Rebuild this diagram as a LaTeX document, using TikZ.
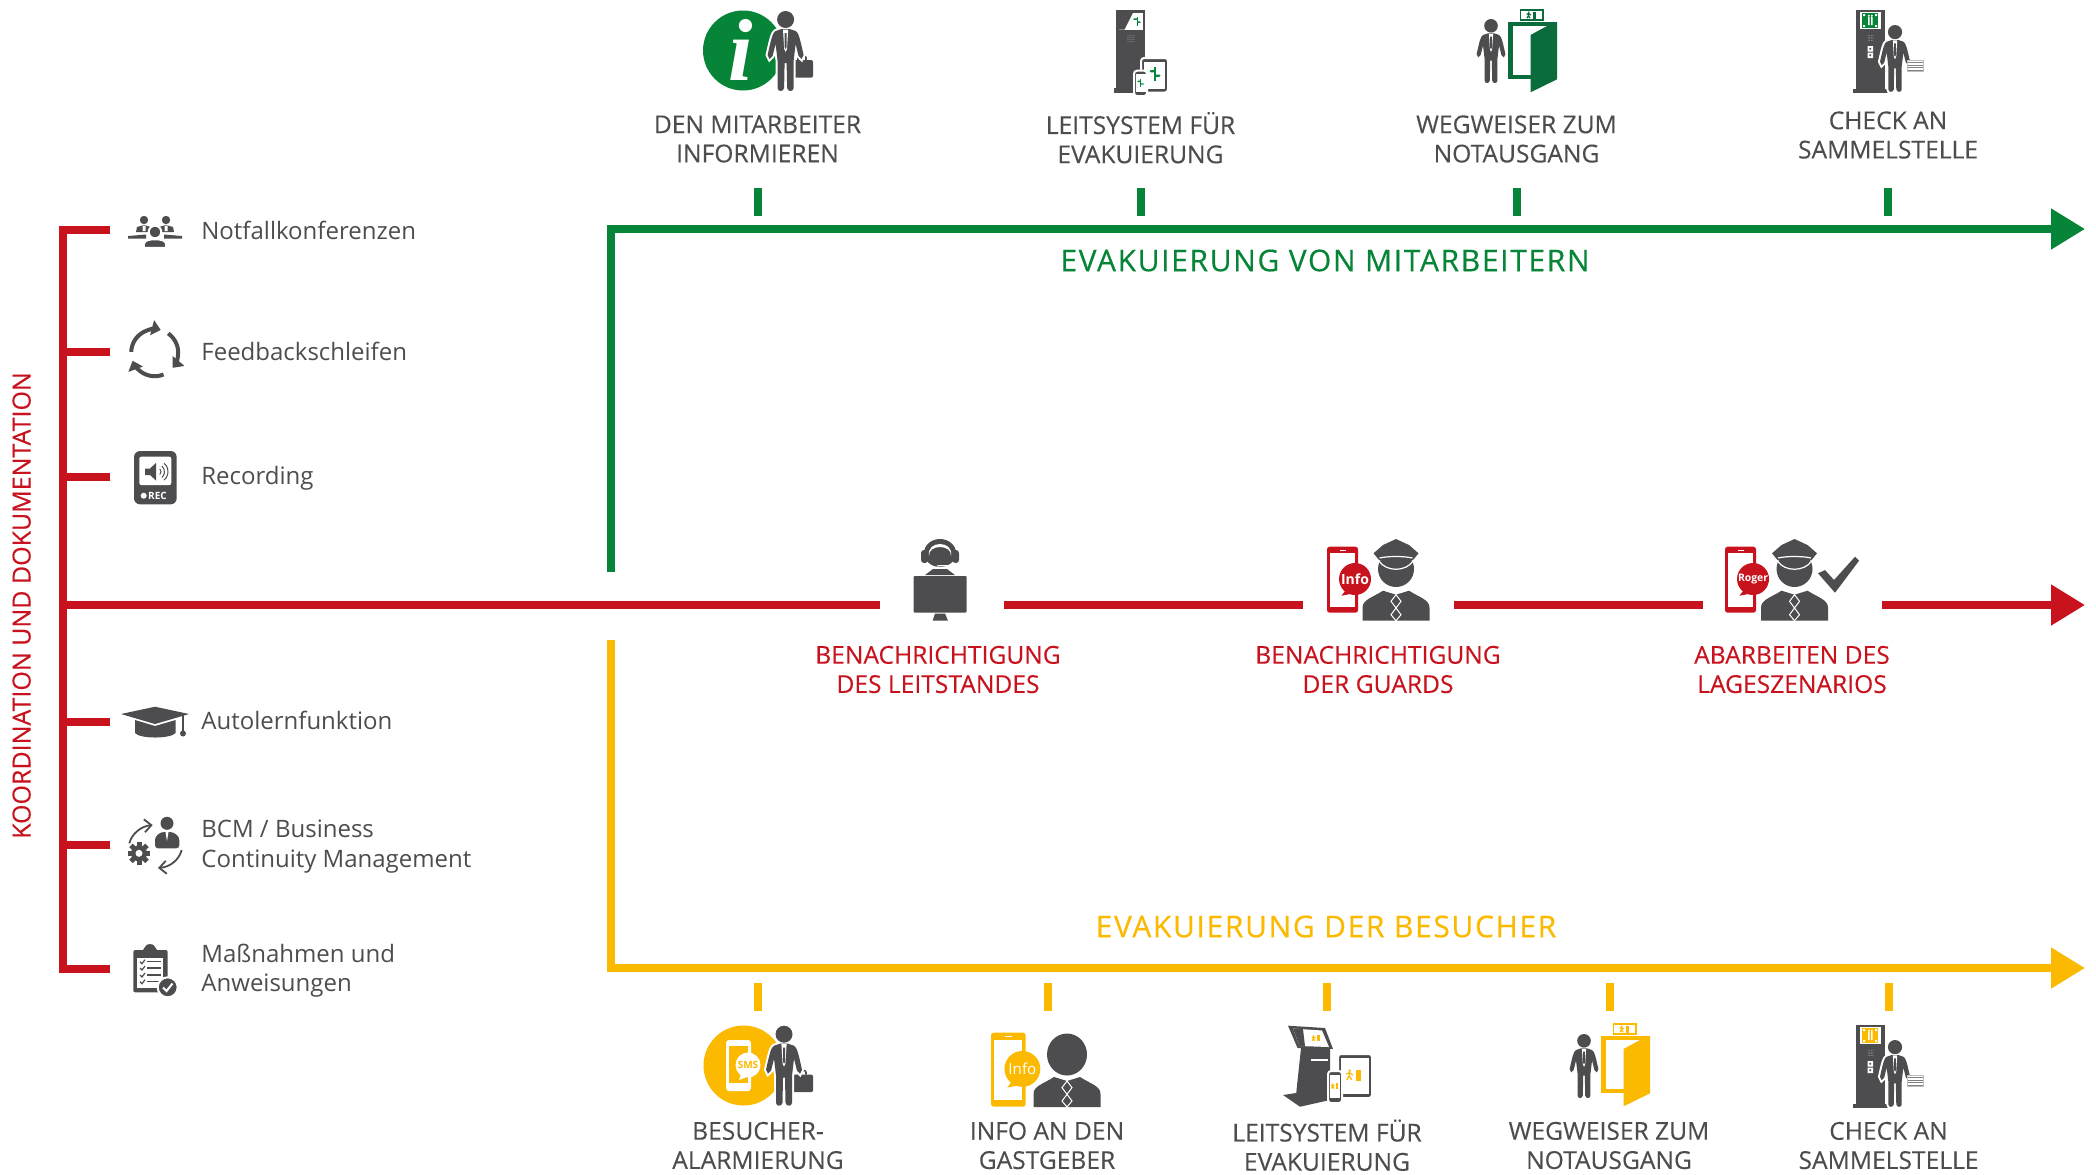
\documentclass[tikz,border=0pt]{standalone}
\usepackage{fontspec}
\setmainfont{Open Sans}
\newfontfamily\titlefont[LetterSpace=5.5,FakeBold=0.4]{Open Sans}
\newfontfamily\capsfont[FakeBold=0.25]{Open Sans}
\newfontfamily\infofont{Liberation Serif}
\usepackage{tikz}
\usetikzlibrary{arrows.meta}

\definecolor{evagreen}{HTML}{068437}
\definecolor{doorgreen}{HTML}{0A6B3C}
\definecolor{evared}{HTML}{C8131F}
\definecolor{evayellow}{HTML}{FBB900}
\definecolor{icondark}{HTML}{4D4D4F}

\newcommand{\personshape}{(-4,18) -- (-10,20) .. controls (-13,22) and (-14,26) .. (-18,44) -- (-16,48) -- (-13,45) -- (-10,33) -- (-8,50) -- (-8,77) .. controls (-8,81) and (-2,81) .. (-1.5,77) -- (-1,52) -- (1,52) -- (1.5,77) .. controls (2,81) and (8,81) .. (8,77) -- (8,50) -- (10,33) -- (13,45) -- (16,48) -- (18,44) .. controls (14,26) and (13,22) .. (10,20) -- (4,18) -- cycle}

\begin{document}
\begin{tikzpicture}[x=0.5pt,y=-0.5pt]
    \tikzstyle{evaline}=[line width=4pt]
    \tikzstyle{evaarrow}=[evaline,-{Triangle[length=17pt,width=19.5pt]}]
    \tikzstyle{slot}=[inner sep=0pt,minimum height=20pt]
    \tikzstyle{steplabel}=[inner sep=0pt,align=center,text=icondark,font=\fontsize{12.3}{14.6}\capsfont]
    \tikzstyle{alarmlabel}=[steplabel,text=evared]
    \tikzstyle{sidelabel}=[inner sep=0pt,anchor=west,align=left,text=icondark,font=\fontsize{12}{14.6}\selectfont]
    \tikzstyle{titlelabel}=[inner sep=0pt,font=\fontsize{15}{18}\titlefont]
    \tikzstyle{iconline}=[icondark,line width=2pt]
    \tikzstyle{badge}=[inner sep=0pt,text=white,font=\bfseries]
    \tikzset{
        pics/person/.style={code={
            \path[draw=white,fill=white,line width=2pt] (0,8.5) circle (8.5);
            \path[draw=white,fill=white,line width=2pt] \personshape;
            \fill[icondark] (0,8.5) circle (8.5);
            \fill[icondark] \personshape;
            \fill[white] (-2.6,18.5) -- (2.6,18.5) -- (1.4,38) -- (0,41) -- (-1.4,38) -- cycle;
            \fill[icondark] (-1,22) -- (1,22) -- (1,36) -- (0,38) -- (-1,36) -- cycle;
        }},
        pics/briefcase/.style={code={
            \draw[icondark,line width=0.8pt,rounded corners=1pt] (5,0) -- (5,-4) -- (13,-4) -- (13,0);
            \fill[icondark,rounded corners=1pt] (0,0) rectangle (20,17.7);
        }},
        pics/signpost/.style={code={
            \fill[#1] (-0.5,-6) rectangle (0.5,6);
            \fill[#1] (0,-3.5) -- (-4,-3.5) -- (-5,-2.5) -- (-4,-1.5) -- (0,-1.5) -- cycle;
            \fill[#1] (0,0.5) -- (4,0.5) -- (5,1.5) -- (4,2.5) -- (0,2.5) -- cycle;
        }},
        pics/exitmark/.style={code={
            \fill[#1] (1.5,-5) -- (6,-5) -- (6,5) -- (1.5,5) -- cycle;
            \fill[#1] (-4,-4) circle (1.2);
            \draw[#1,line width=0.6pt] (-4,-2.5) -- (-4.5,1) -- (-6.5,4.5) (-4.5,1) -- (-2,4.5) (-7,-1) -- (-4,-2) -- (-1,0);
        }},
        pics/speakerdots/.style={code={
            \foreach \dx in {-3,-1,1,3}
                \foreach \dy in {-3,-1,1,3}
                    \fill[#1] (\dx,\dy) circle (0.45);
        }},
        pics/phonemsg/.style n args={3}{code={
            \fill[#1,rounded corners=1.3pt] (0,0) rectangle (31,66);
            \fill[white] (3,6.5) rectangle (28,60);
            \fill[white] (12.5,3) rectangle (18.5,4);
            \fill[#1] (28,32.3) circle (16);
            \fill[#1] (19,43) -- (14.5,49) -- (25,47) -- cycle;
            \node[badge,font=#3] (msg) at (28,32) {#2};
        }},
        pics/bust/.style={code={
            \fill[icondark] (-33.5,30) -- (-33.5,17) .. controls (-33.5,9) and (-24,7) .. (-13,0) -- (0,4) -- (13,0) .. controls (24,7) and (33.5,9) .. (33.5,17) -- (33.5,30) -- cycle;
            \draw[white,line width=0.5pt] (0,4) -- (-5,10.6) -- (0,17.3) -- (-5,24) -- (0,30) -- (5,24) -- (0,17.3) -- (5,10.6) -- cycle;
        }},
        pics/guard/.style={code={
            \fill[icondark] (0,30) circle (18);
            \fill[icondark] (0,0) -- (-13,6) -- (-22.5,14.3) -- (-17,21) -- (17,21) -- (22.5,14.3) -- (13,6) -- cycle;
            \draw[white,line width=0.6pt] (-16.5,19) .. controls (-8,17) and (8,17) .. (16.5,19);
            \draw[white,line width=0.6pt] (-17,22) .. controls (-10,33) and (10,33) .. (17,22);
            \pic at (0,51.7) {bust};
        }},
        pics/door/.style n args={2}{code={
            \fill[#1] (0,0) rectangle (49,57.3);
            \fill[white] (4.6,4) rectangle (39,53);
            \fill[#2] (22.5,13) -- (39,4) -- (49,0) -- (49,57.3) -- (22.5,70.3) -- cycle;
            \draw[#1,line width=0.8pt,fill=white] (12.5,-12) rectangle (35,-2);
            \pic[scale=0.7] at (23.5,-7) {exitmark=#1};
        }},
        pics/stand/.style={code={
            \fill[icondark] (0,0) rectangle (29,79);
            \fill[icondark] (-3,79) rectangle (34,82.7);
            \fill[white] (4,2) rectangle (25,19);
            \fill[#1] (6,3) rectangle (22,18);
            \fill[white] (12,7) rectangle (13.5,15) (15,7) rectangle (16.5,15);
            \fill[white] (12.8,5.8) circle (1.1) (15.8,5.8) circle (1.1);
            \fill[white] (7,4) rectangle (9,6) (19,4) rectangle (21,6) (7,15) rectangle (9,17) (19,15) rectangle (21,17);
            \pic[scale=0.8] at (14.5,28) {speakerdots=lightgray};
            \fill[white] (11.5,36) rectangle (17,41.5) (11.5,42.5) rectangle (17,48);
            \fill[icondark] (13.3,37.8) rectangle (15.2,39.7) (13.3,44.3) rectangle (15.2,46.2);
            \pic[scale=0.835] at (39,15) {person};
            \fill[white] (51.5,50) rectangle (67.4,61);
            \draw[lightgray,fill=white,line width=0.4pt] (51.5,50) rectangle (67.4,61);
            \foreach \ly in {52.5,55,57.5,60}
                \draw[gray,line width=0.5pt] (52,\ly) -- (67,\ly);
        }}
    }
    \useasboundingbox (0,0) rectangle (2096,1174);

    \coordinate (greenstart) at (611,572);
    \coordinate (greencorner) at (611,229);
    \coordinate (greentip) at (2085,229);
    \coordinate (yellowstart) at (611,640);
    \coordinate (yellowcorner) at (611,968);
    \coordinate (yellowtip) at (2085,968);
    \coordinate (redstart) at (62.7,605);
    \coordinate (redtip) at (2085,605);
    \coordinate (bracketa) at (110,229.7);
    \coordinate (bracketb) at (110,352.3);
    \coordinate (bracketc) at (110,477.3);
    \coordinate (bracketd) at (110,722);
    \coordinate (brackete) at (110,845);
    \coordinate (bracketf) at (110,969.3);
    \coordinate (spinea) at (62.7,229.7);
    \coordinate (spineb) at (62.7,352.3);
    \coordinate (spinec) at (62.7,477.3);
    \coordinate (spined) at (62.7,722);
    \coordinate (spinee) at (62.7,845);
    \coordinate (spinef) at (62.7,969.3);

    \node[slot,minimum width=62pt] (leitslot) at (942,605) {};
    \node[slot,minimum width=75.5pt] (guardslot) at (1378.5,605) {};
    \node[slot,minimum width=89.5pt] (rogerslot) at (1792.5,605) {};

    \draw[evaarrow,evagreen] (greenstart) -- (greencorner) -- (greentip);
    \draw[evaarrow,evayellow] (yellowstart) -- (yellowcorner) -- (yellowtip);
    \draw[evaline,evared] (bracketa) -- (spinea) -- (spinef) -- (bracketf);
    \draw[evaline,evared] (spineb) -- (bracketb);
    \draw[evaline,evared] (spinec) -- (bracketc);
    \draw[evaline,evared] (spined) -- (bracketd);
    \draw[evaline,evared] (spinee) -- (brackete);
    \draw[evaline,evared] (redstart) -- (leitslot.west);
    \draw[evaline,evared] (leitslot.east) -- (guardslot.west);
    \draw[evaline,evared] (guardslot.east) -- (rogerslot.west);
    \draw[evaarrow,evared] (rogerslot.east) -- (redtip);

    \foreach \n/\x in {a/757.5,b/1140.5,c/1516.5,d/1888} {
        \coordinate (gtop\n) at (\x,188);
        \coordinate (gbot\n) at (\x,216);
        \draw[evaline,evagreen] (gtop\n) -- (gbot\n);
    }
    \foreach \n/\x in {a/758,b/1047.5,c/1327,d/1609.5,e/1888.5} {
        \coordinate (ytop\n) at (\x,983);
        \coordinate (ybot\n) at (\x,1011);
        \draw[evaline,evayellow] (ytop\n) -- (ybot\n);
    }

    \node[titlelabel,text=evagreen] (greentitle) at (1325,260.5) {EVAKUIERUNG VON MITARBEITERN};
    \node[titlelabel,text=evayellow] (yellowtitle) at (1326,926.5) {EVAKUIERUNG DER BESUCHER};
    \node[inner sep=0pt,rotate=90,text=evared,font=\fontsize{12.5}{14.6}\capsfont] (koordlabel) at (21.6,605.5) {KOORDINATION UND DOKUMENTATION};

    \node[steplabel] (greena) at (757.5,139) {DEN MITARBEITER\\INFORMIEREN};
    \node[steplabel] (greenb) at (1140.5,137.7) {LEITSYSTEM FÜR\\EVAKUIERUNG};
    \node[steplabel] (greenc) at (1516.5,139) {WEGWEISER ZUM\\NOTAUSGANG};
    \node[steplabel] (greend) at (1888,135) {CHECK AN\\SAMMELSTELLE};
    \node[alarmlabel] (reda) at (938,669.5) {BENACHRICHTIGUNG\\DES LEITSTANDES};
    \node[alarmlabel] (redb) at (1378,669.5) {BENACHRICHTIGUNG\\DER GUARDS};
    \node[alarmlabel] (redc) at (1792,669.5) {ABARBEITEN DES\\LAGESZENARIOS};
    \node[steplabel] (yellowa) at (758,1145.5) {BESUCHER-\\ALARMIERUNG};
    \node[steplabel] (yellowb) at (1047,1145.5) {INFO AN DEN\\GASTGEBER};
    \node[steplabel] (yellowc) at (1327,1145.2) {LEITSYSTEM FÜR\\EVAKUIERUNG};
    \node[steplabel] (yellowd) at (1609,1145.5) {WEGWEISER ZUM\\NOTAUSGANG};
    \node[steplabel] (yellowe) at (1888.5,1145.5) {CHECK AN\\SAMMELSTELLE};

    \node[sidelabel] (notfall) at (201,230) {Notfallkonferenzen};
    \node[sidelabel] (feedback) at (201,351) {Feedbackschleifen};
    \node[sidelabel] (recording) at (201,478.5) {Recording};
    \node[sidelabel] (autolern) at (201,720) {Autolernfunktion};
    \node[sidelabel] (bcm) at (201,846.5) {BCM / Business\\Continuity Management};
    \node[sidelabel] (massnahmen) at (201,970.5) {Maßnahmen und\\Anweisungen};

    \fill[evagreen] (743,50.5) circle (40);
    \node[inner sep=0pt,text=white,font=\fontsize{44}{44}\infofont\bfseries\itshape] (infoi) at (741,50) {i};
    \pic at (793,60) {briefcase};
    \pic at (785.6,11) {person};

    \fill[icondark] (1116.4,10) rectangle (1145,88);
    \fill[icondark] (1113.7,88) rectangle (1155,92.5);
    \fill[white] (1118.5,12.5) rectangle (1143,29.5);
    \fill[icondark] (1118.5,12.5) -- (1133,12.5) -- (1124.5,29.5) -- (1118.5,29.5) -- cycle;
    \pic[scale=0.75] at (1137,21) {signpost=evagreen};
    \pic at (1131,38.5) {speakerdots=lightgray};
    \draw[white,line width=1pt,fill=icondark,rounded corners=1.5pt] (1141,58) rectangle (1168,92.5);
    \fill[white] (1144,62) rectangle (1165,88.5);
    \pic[scale=1.1] at (1155,74) {signpost=evagreen};
    \draw[white,line width=1pt,fill=icondark,rounded corners=1.5pt] (1134,70.7) rectangle (1147,96);
    \fill[white] (1135.5,74) rectangle (1145.5,92);
    \pic[scale=0.65] at (1140.5,83) {signpost=evagreen};

    \pic[scale=0.8] at (1491,19) {person};
    \pic at (1508,22) {door={doorgreen}{doorgreen}};
    \pic at (1856,10) {stand=evagreen};

    \fill[icondark] (940,553) ellipse (16 and 14);
    \fill[white] (929,556) .. controls (926,540) and (954,540) .. (951,556) .. controls (952,544) and (928,544) .. (929,556);
    \fill[icondark,rounded corners=1.5pt] (921,550) rectangle (928,563) (952,550) rectangle (959,563);
    \draw[white,line width=0.6pt] (955,563) .. controls (952,567) and (945,565) .. (937,566);
    \fill[icondark] (925,575) -- (933,569) -- (947,569) -- (955,575) -- cycle;
    \fill[icondark,rounded corners=0.5pt] (913.5,576) rectangle (966.5,612.7);
    \fill[icondark] (935,613.5) -- (945,613.5) -- (948,620.7) -- (932.6,620.7) -- cycle;

    \pic at (1327,546.7) {phonemsg={evared}{Info}{\fontsize{7}{7}\selectfont\bfseries}};
    \pic at (1396,539) {guard};
    \pic at (1725,546.7) {phonemsg={evared}{Roger}{\fontsize{5.2}{6}\selectfont\bfseries}};
    \pic at (1794.5,539) {guard};
    \fill[icondark] (1818,573.3) -- (1835,592.7) -- (1859,560.7) -- (1855,556.7) -- (1834,580) -- (1825,570) -- cycle;

    \fill[evayellow] (743.5,1065.5) circle (40);
    \fill[white,rounded corners=1.5pt] (726,1040) rectangle (751,1091);
    \fill[evayellow] (729,1046) rectangle (748,1083);
    \fill[white] (748,1065) circle (12.5);
    \fill[white] (741,1074) -- (739,1080) -- (747,1077) -- cycle;
    \node[badge,text=evayellow,font=\fontsize{5}{6}\selectfont\bfseries] (smsmsg) at (748,1065) {SMS};
    \pic at (793,1074.5) {briefcase};
    \pic at (784,1025.7) {person};

    \pic[scale=1.12] at (991,1032.7) {phonemsg={evayellow}{Info}{\fontsize{7.6}{8}\selectfont}};
    \fill[icondark] (1067,1054.5) ellipse (20 and 21);
    \pic at (1067,1077) {bust};

    \fill[icondark] (1288,1025.7) -- (1325,1028) -- (1333,1049) -- (1297.5,1048) -- cycle;
    \fill[white] (1293,1028.5) -- (1322,1030.5) -- (1329,1047) -- (1299.5,1046) -- cycle;
    \fill[icondark] (1293,1028.5) -- (1303,1029) -- (1305,1046.3) -- (1299.5,1046) -- cycle;
    \pic[scale=0.6] at (1316,1038) {exitmark=evayellow};
    \fill[icondark] (1301,1048) -- (1330,1048) -- (1330,1095) -- (1296,1095) -- cycle;
    \fill[icondark] (1296,1093) -- (1283,1095) -- (1300,1106.7) -- (1330,1100) -- (1330,1093) -- cycle;
    \fill[white] (1311,1058.7) rectangle (1328,1060.7);
    \draw[white,line width=1pt,fill=icondark,rounded corners=1.5pt] (1338,1054) rectangle (1372,1098);
    \fill[white] (1341,1058) rectangle (1369,1093.5);
    \pic[scale=1.1] at (1354,1075) {exitmark=evayellow};
    \draw[white,line width=1pt,fill=icondark,rounded corners=1.5pt] (1328,1071) rectangle (1342,1103);
    \fill[white] (1329.8,1075) rectangle (1340.2,1098);
    \pic[scale=0.55] at (1335,1086) {exitmark=evayellow};

    \pic[scale=0.8] at (1584,1034) {person};
    \pic at (1601,1036) {door={evayellow}{evayellow}};
    \pic at (1856,1025) {stand=evayellow};

    \fill[icondark] (144,220) circle (4.2) (166,220) circle (4.2);
    \fill[icondark] (136,232) -- (137,227) -- (144,225) -- (151,227) -- (152,232) -- cycle;
    \fill[icondark] (158,232) -- (159,227) -- (166,225) -- (173,227) -- (174,232) -- cycle;
    \fill[white] (142.5,225.5) rectangle (145.5,231) (164.5,225.5) rectangle (167.5,231);
    \draw[white,line width=1pt,fill=icondark] (155,232) circle (6.3);
    \draw[white,line width=0.8pt,fill=icondark] (144,247.7) -- (144,244) .. controls (145,240) and (150,239.5) .. (155,239.5) .. controls (160,239.5) and (165,240) .. (166,244) -- (166,247.7) -- cycle;
    \fill[icondark] (128,236) -- (146,234.5) -- (146,238.5) -- (128,238.5) -- cycle;
    \fill[icondark] (182,236) -- (164,234.5) -- (164,238.5) -- (182,238.5) -- cycle;

    \draw[iconline,-{Triangle[length=4.5pt,width=7.5pt]}] ([shift=(182:23.5)]154.7,352.7) arc [start angle=182,end angle=285,radius=23.5];
    \draw[iconline,-{Triangle[length=4.5pt,width=7.5pt]}] ([shift=(305:23.5)]154.7,352.7) arc [start angle=305,end angle=400,radius=23.5];
    \draw[iconline,-{Triangle[length=4.5pt,width=7.5pt]}] ([shift=(68:23.5)]154.7,352.7) arc [start angle=68,end angle=160,radius=23.5];

    \fill[icondark,rounded corners=3pt] (134,451) rectangle (176.7,504.3);
    \fill[white,rounded corners=1pt] (139.3,456.7) rectangle (171.3,485);
    \fill[icondark] (145,468.5) -- (150,468.5) -- (156,463) -- (156,480.5) -- (150,475) -- (145,475) -- cycle;
    \draw[icondark,line width=0.5pt] ([shift=(-45:4)]157,471.7) arc [start angle=-45,end angle=45,radius=4];
    \draw[icondark,line width=0.5pt] ([shift=(-50:7.5)]157,471.7) arc [start angle=-50,end angle=50,radius=7.5];
    \draw[icondark,line width=0.5pt] ([shift=(-50:11)]157,471.7) arc [start angle=-50,end angle=50,radius=11];
    \fill[white] (143.7,495.7) circle (3);
    \node[badge,font=\fontsize{5}{6}\selectfont\bfseries] (recmark) at (157.5,495.7) {REC};

    \fill[icondark] (121,714) -- (155,706.7) -- (189,714) -- (155,724) -- cycle;
    \fill[icondark] (135,720) -- (155,726) -- (175.7,720) -- (175.7,733) .. controls (170,739) and (140,739) .. (135,733) -- cycle;
    \draw[icondark,line width=0.7pt] (183,715) -- (183,732);
    \fill[icondark] (183,733.5) circle (3);

    \fill[icondark] (167,823.3) circle (6.5);
    \fill[icondark,rounded corners=1.5pt] (155,848.3) -- (155,837) -- (161,832) -- (173,832) -- (179.3,837) -- (179.3,848.3) -- cycle;
    \fill[white] (165.5,832) -- (168.5,832) -- (167,841) -- cycle;
    \foreach \a in {0,45,...,315}
        \fill[icondark,rotate around={\a:(139,853.3)}] (136.5,842) rectangle (141.5,846);
    \fill[icondark] (139,853.3) circle (8);
    \fill[white] (139,853.3) circle (3.5);
    \draw[iconline,line width=0.9pt,-{Straight Barb[length=3.5pt,width=6.5pt]}] (129.3,843.3) .. controls (132,833) and (142,826) .. (152.7,825);
    \draw[iconline,line width=0.9pt,-{Straight Barb[length=3.5pt,width=6.5pt]}] (181.7,850) .. controls (179,860) and (170,867) .. (158,868);

    \fill[icondark,rounded corners=1pt] (133.3,950) rectangle (167.7,992.3);
    \fill[white] (137.3,958) rectangle (163,988);
    \fill[icondark] (143,950) -- (145,947) .. controls (146,943) and (154,943) .. (155,947) -- (157,950) -- (157,955) -- (143,955) -- cycle;
    \foreach \ly in {961.7,968,975,981.7} {
        \draw[icondark,line width=0.6pt] (140,\ly) -- (142,\ly+2) -- (145,\ly-2);
        \draw[icondark,line width=0.7pt] (147,\ly) -- (161,\ly);
    }
    \draw[white,line width=1pt,fill=icondark] (167.7,987.3) circle (10);
    \draw[white,line width=1pt] (163,987.5) -- (166.5,991) -- (172.5,983.5);
\end{tikzpicture}
\end{document}
